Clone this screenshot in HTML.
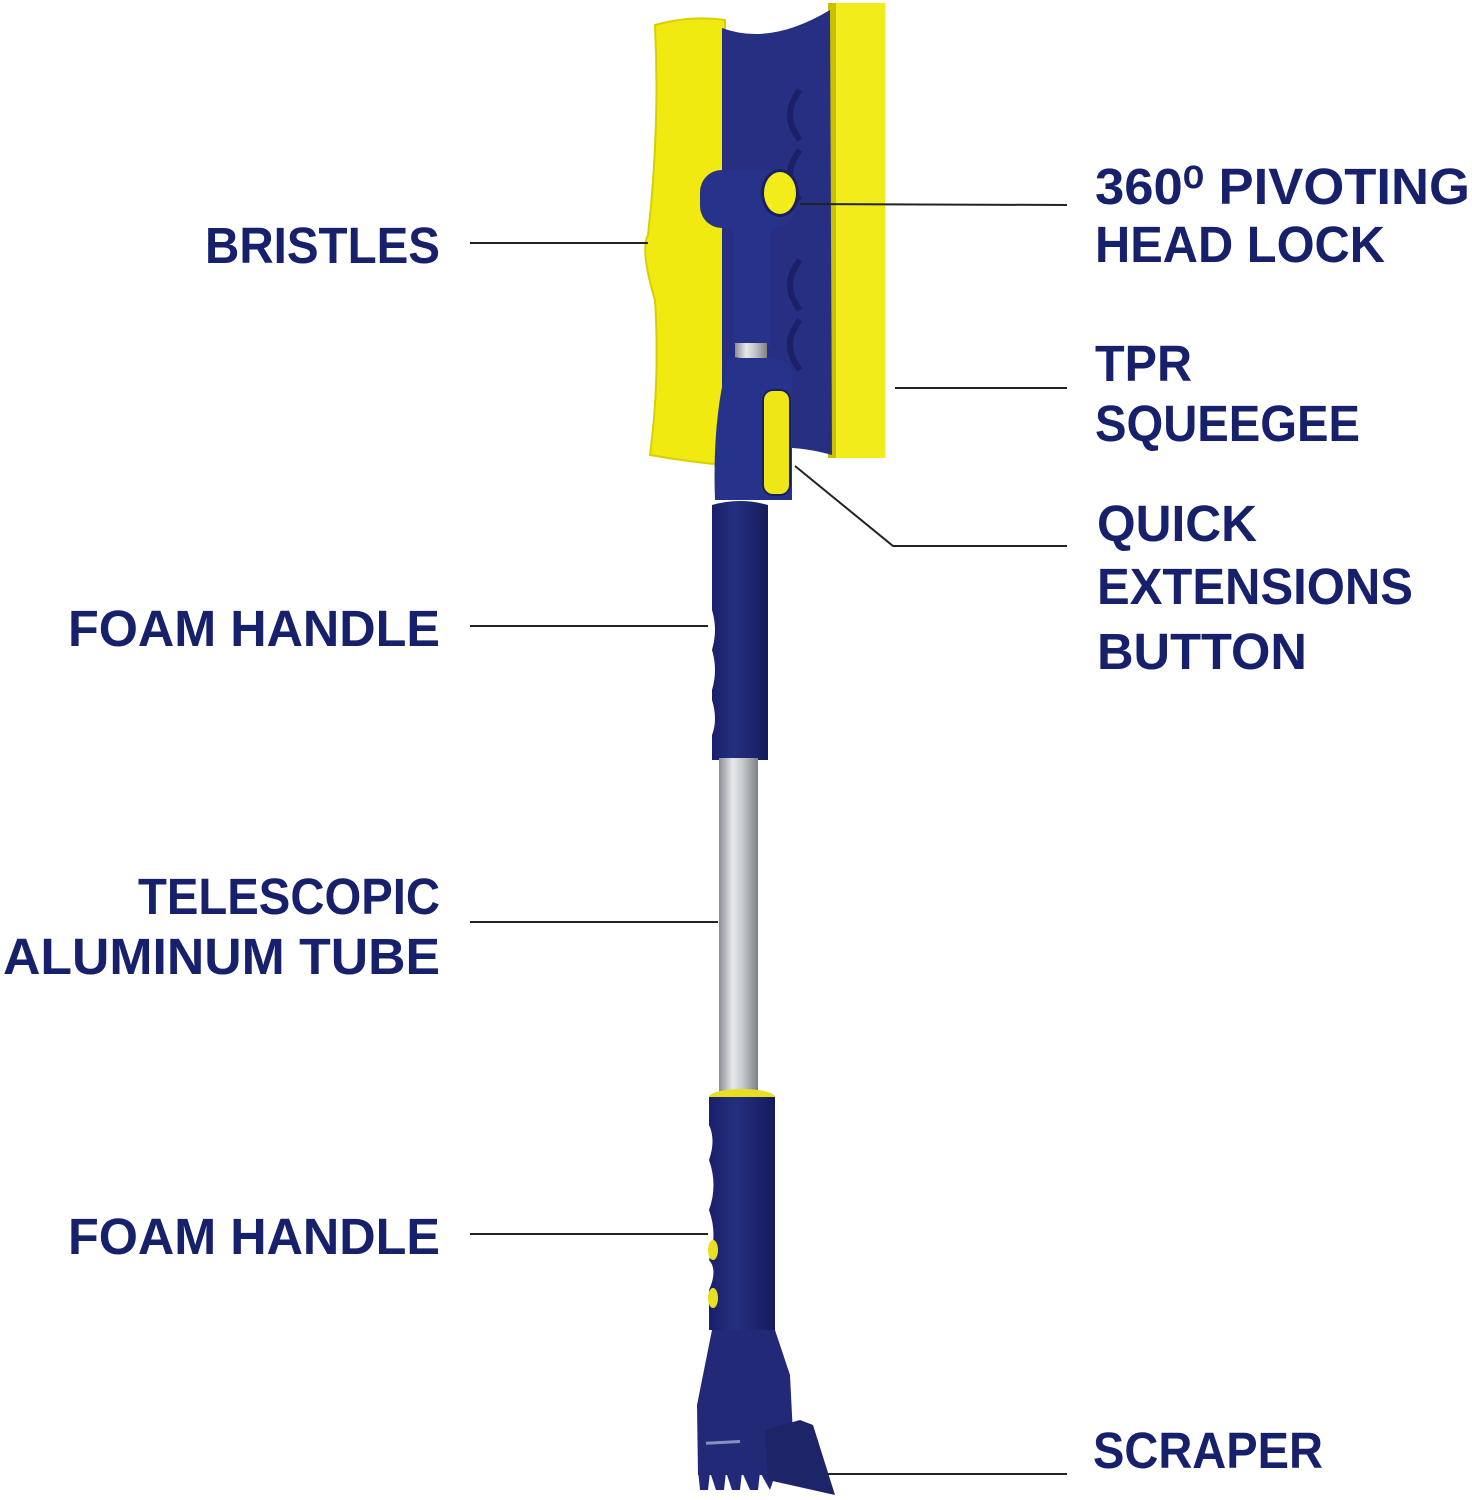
<!DOCTYPE html><html><head><style>html,body{margin:0;padding:0;background:#fff}svg{display:block}</style></head><body>
<svg width="1472" height="1500" viewBox="0 0 1472 1500" xmlns="http://www.w3.org/2000/svg">
<defs>
<linearGradient id="al" x1="0" x2="1"><stop offset="0" stop-color="#8a8e94"/><stop offset=".35" stop-color="#e6e8ea"/><stop offset=".6" stop-color="#c7cacd"/><stop offset="1" stop-color="#7d8186"/></linearGradient>
<linearGradient id="bl" x1="0" x2="1"><stop offset="0" stop-color="#1a1f6b"/><stop offset=".4" stop-color="#23307f"/><stop offset="1" stop-color="#161a5c"/></linearGradient>
</defs>
<path d="M655,25 Q690,15 725,20 L725,465 Q690,462 650,455 Q660,380 655,300 Q640,250 648,235 Q660,130 655,25Z" fill="#f0ea10" stroke="#d9cf00" stroke-width="2"/>
<rect x="828" y="3" width="57" height="455" fill="#f2ec1a"/>
<rect x="828" y="3" width="8" height="455" fill="#c9c000"/>
<path d="M722,28 Q770,46 830,10 L832,455 Q780,440 722,455 Z" fill="#262f82"/>
<path d="M800,90 Q780,115 800,140" stroke="#1b2068" stroke-width="6" fill="none"/>
<path d="M800,150 Q780,175 800,200" stroke="#1b2068" stroke-width="6" fill="none"/>
<path d="M800,260 Q780,285 800,310" stroke="#1b2068" stroke-width="6" fill="none"/>
<path d="M800,320 Q780,345 800,370" stroke="#1b2068" stroke-width="6" fill="none"/>
<rect x="733" y="215" width="38" height="135" rx="8" fill="#27338a"/>
<rect x="735" y="343" width="32" height="18" fill="url(#al)"/>
<path d="M728,360 Q725,355 740,358 L775,358 Q795,362 792,380 L792,500 L715,500 Q712,420 728,360Z" fill="#27338a"/>
<rect x="763" y="390" width="27" height="105" rx="10" fill="#eee617" stroke="#1a1f60" stroke-width="2"/>
<rect x="700" y="170" width="95" height="58" rx="22" fill="#27338a"/>
<ellipse cx="780" cy="193" rx="19" ry="24" fill="#1a1f60"/>
<ellipse cx="780" cy="193" rx="16" ry="21" fill="#f2ec1a"/>
<path d="M712,505 Q740,497 768,505 L768,760 L712,760 L712,735 Q718,720 712,700 L712,690 Q718,670 712,650 Q718,630 712,610 L712,505Z" fill="url(#bl)"/>
<rect x="719" y="758" width="39" height="342" fill="url(#al)"/>
<ellipse cx="742" cy="1097" rx="33" ry="8" fill="#e8df20"/>
<path d="M709,1097 L775,1097 L775,1330 L709,1330 L709,1290 Q718,1270 709,1260 Q718,1235 709,1210 Q718,1185 709,1160 Q716,1140 709,1125Z" fill="url(#bl)"/>
<ellipse cx="713" cy="1250" rx="5" ry="10" fill="#e8df20"/>
<ellipse cx="713" cy="1298" rx="5" ry="10" fill="#e8df20"/>
<path d="M712,1330 L775,1330 L790,1375 L795,1475 L698,1475 L697,1405 Z" fill="#222a78"/>
<path d="M698,1470 L700,1490 L708,1490 L710,1472 L716,1490 L724,1490 L726,1472 L732,1490 L740,1490 L742,1472 L750,1490 L758,1490 L760,1472 L770,1490 L775,1475Z" fill="#222a78"/>
<path d="M765,1430 L800,1420 L813,1425 L835,1495 L768,1480Z" fill="#1d2468"/>
<rect x="706" y="1441" width="34" height="3" fill="#8890c0" transform="rotate(-3 720 1442)"/>
<g stroke="#222" stroke-width="2" fill="none">
<line x1="470" y1="243" x2="648" y2="243"/>
<line x1="800" y1="204" x2="1067" y2="205"/>
<line x1="895" y1="388" x2="1067" y2="388"/>
<polyline points="795,466 893,546 1067,546"/>
<line x1="470" y1="626" x2="708" y2="626"/>
<line x1="470" y1="922" x2="718" y2="922"/>
<line x1="470" y1="1234" x2="708" y2="1234"/>
<line x1="828" y1="1474" x2="1067" y2="1474"/>
</g>
<g font-family="Liberation Sans, sans-serif" font-weight="bold" font-size="51" fill="#17206b">
<text x="205" y="263" textLength="235" lengthAdjust="spacingAndGlyphs">BRISTLES</text>
<text x="68" y="646" textLength="372" lengthAdjust="spacingAndGlyphs">FOAM HANDLE</text>
<text x="138" y="914" textLength="302" lengthAdjust="spacingAndGlyphs">TELESCOPIC</text>
<text x="3" y="974" textLength="437" lengthAdjust="spacingAndGlyphs">ALUMINUM TUBE</text>
<text x="68" y="1254" textLength="372" lengthAdjust="spacingAndGlyphs">FOAM HANDLE</text>
<text x="1095" y="204" textLength="375" lengthAdjust="spacingAndGlyphs">360⁰ PIVOTING</text>
<text x="1095" y="262" textLength="290" lengthAdjust="spacingAndGlyphs">HEAD LOCK</text>
<text x="1095" y="381" textLength="97" lengthAdjust="spacingAndGlyphs">TPR</text>
<text x="1095" y="441" textLength="265" lengthAdjust="spacingAndGlyphs">SQUEEGEE</text>
<text x="1097" y="541" textLength="160" lengthAdjust="spacingAndGlyphs">QUICK</text>
<text x="1097" y="604" textLength="316" lengthAdjust="spacingAndGlyphs">EXTENSIONS</text>
<text x="1097" y="669" textLength="210" lengthAdjust="spacingAndGlyphs">BUTTON</text>
<text x="1093" y="1468" textLength="230" lengthAdjust="spacingAndGlyphs">SCRAPER</text>
</g>
</svg>
</body></html>
